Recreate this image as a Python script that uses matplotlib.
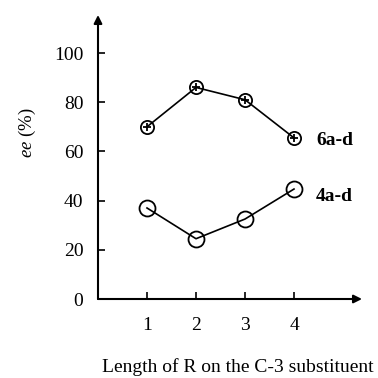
import matplotlib
matplotlib.use("Agg")
import matplotlib.pyplot as plt

plt.rcParams['font.family'] = ['Liberation Serif', 'DejaVu Serif']
plt.rcParams['mathtext.fontset'] = 'custom'
plt.rcParams['mathtext.rm'] = 'Liberation Serif'
plt.rcParams['mathtext.it'] = 'Liberation Serif:italic'

x_vals = [1, 2, 3, 4]
ee_6 = [70, 86, 81, 65.5]
ee_4 = [37, 24.5, 32.5, 44.7]
y_ticks = [0, 20, 40, 60, 80, 100]
series_labels = ["6a-d", "4a-d"]

fig = plt.figure(figsize=(3.78, 3.78), dpi=100)
ax = fig.add_axes([98/378, 79/378, 264/378, 284/378])
ax.set_xlim(0, 264/49)
ax.set_ylim(0, 284/2.46)

for s in ax.spines.values():
    s.set_visible(False)

# axes with arrows
ax.annotate('', xy=(1, 0), xytext=(0, 0), xycoords='axes fraction',
            arrowprops=dict(arrowstyle='-|>', lw=1.5, color='black',
                            mutation_scale=12, shrinkA=0, shrinkB=0))
ax.annotate('', xy=(0, 1), xytext=(0, 0), xycoords='axes fraction',
            arrowprops=dict(arrowstyle='-|>', lw=1.5, color='black',
                            mutation_scale=12, shrinkA=0, shrinkB=0))

ax.plot(x_vals, ee_6, color='black', lw=1.2, marker='o', ms=9.5,
        mfc='none', mec='black', mew=1.3)
ax.plot(x_vals, ee_6, ls='none', marker='+', ms=5.5, mec='black', mew=1.3)
ax.plot(x_vals, ee_4, color='black', lw=1.2, marker='o', ms=11.5,
        mfc='none', mec='black', mew=1.3)

ax.text(4.45, 64.6, series_labels[0], fontsize=14, fontweight='bold',
        ha='left', va='center')
ax.text(4.45, 41.5, series_labels[1], fontsize=14, fontweight='bold',
        ha='left', va='center')

ax.set_xticks(x_vals)
ax.set_xticklabels([str(v) for v in x_vals])
ax.set_yticks(y_ticks)
ax.set_yticklabels([str(v) for v in y_ticks])
ax.tick_params(axis='both', direction='in', length=5, width=1.2,
               labelsize=14, color='black')
ax.tick_params(axis='y', pad=10.5)
ax.tick_params(axis='x', pad=13)

ax.text(-0.268, 0.585, r'$\it{ee}$ (%)', transform=ax.transAxes,
        rotation=90, ha='center', va='center', fontsize=13.5)
ax.text(0.528, -0.239, 'Length of R on the C-3 substituent',
        transform=ax.transAxes, ha='center', va='center', fontsize=14)

fig.savefig('out.png', dpi=100)
